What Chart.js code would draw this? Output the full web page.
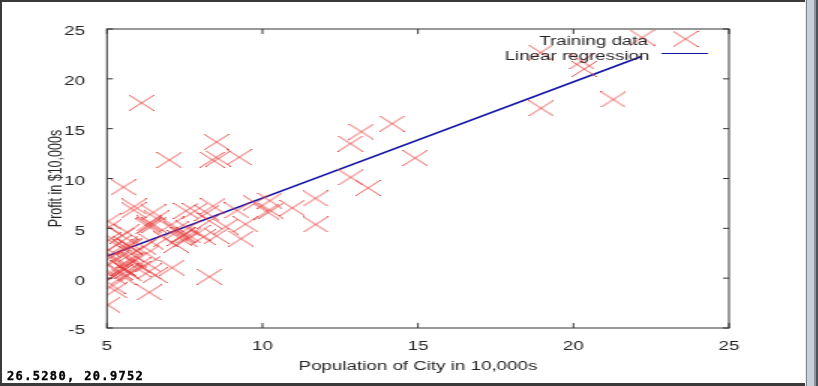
<!DOCTYPE html>
<html>
<head>
<meta charset="utf-8">
<script src="https://cdn.jsdelivr.net/npm/chart.js@4.4.1/dist/chart.umd.min.js"></script>
<style>
  html, body { margin: 0; padding: 0; background: #fff; overflow: hidden; }
  #stage { position: relative; width: 818px; height: 386px; background: #fff; }
  #plot { position: absolute; left: 0; top: 0; transform: scaleX(1.5); transform-origin: 0 0; }
  .edge { position: absolute; background: #3a3a3a; }
  #status {
    position: absolute; left: 7px; top: 369px;
    font: bold 12px "DejaVu Sans Mono", monospace; letter-spacing: 1.35px; color: #000;
    -webkit-text-stroke: 0.35px #000;
  }
  #sidebar {
    position: absolute; left: 805px; top: 0; width: 13px; height: 386px;
    background: linear-gradient(to right, #e8ecef 0 1px, #7d848c 1px 2px, #c8d0d9 2px 9px, #8d959f 9px 11px, #4d535a 11px);
  }
</style>
</head>
<body>
<div id="stage">
  <canvas id="plot" width="545" height="386"></canvas>
  <div class="edge" style="left:0;top:0;width:818px;height:2px"></div>
  <div class="edge" style="left:0;top:0;width:2px;height:386px"></div>
  <div class="edge" style="left:0;top:383px;width:818px;height:3px"></div>
  <div id="sidebar"></div>
  <div id="status">26.5280, 20.9752</div>
</div>
<script>
// training set: city population (10,000s) vs profit ($10,000s)
const population = [
  6.1101, 5.5277, 8.5186, 7.0032, 5.8598, 8.3829, 7.4764, 8.5781, 6.4862, 5.0546,
  5.7107, 14.164, 5.734, 8.4084, 5.6407, 5.3794, 6.3654, 5.1301, 6.4296, 7.0708,
  6.1891, 20.27, 5.4901, 6.3261, 5.5649, 18.945, 12.828, 10.957, 13.176, 22.203,
  5.2524, 6.5894, 9.2482, 5.8918, 8.2111, 7.9334, 8.0959, 5.6063, 12.836, 6.3534,
  5.4069, 6.8825, 11.708, 5.7737, 7.8247, 7.0931, 5.0702, 5.8014, 11.7, 5.5416,
  7.5402, 5.3077, 7.4239, 7.6031, 6.3328, 6.3589, 6.2742, 5.6397, 9.3102, 9.4536,
  8.8254, 5.1793, 21.279, 14.908, 18.959, 7.2182, 8.2951, 10.236, 5.4994, 20.341,
  10.136, 7.3345, 6.0062, 7.2259, 5.0269, 6.5479, 7.5386, 5.0365, 10.274, 5.1077,
  5.7292, 5.1884, 6.3557, 9.7687, 6.5159, 8.5172, 9.1802, 6.002, 5.5204, 5.0594,
  5.7077, 7.6366, 5.8707, 5.3054, 8.2934, 13.394, 5.4369
];
const profit = [
  17.592, 9.1302, 13.662, 11.854, 6.8233, 11.886, 4.3483, 12, 6.5987, 3.8166,
  3.2522, 15.505, 3.1551, 7.2258, 0.71618, 3.5129, 5.3048, 0.56077, 3.6518, 5.3893,
  3.1386, 21.767, 4.263, 5.1875, 3.0825, 22.638, 13.501, 7.0467, 14.692, 24.147,
  -1.22, 5.9966, 12.134, 1.8495, 6.5426, 4.5623, 4.1164, 3.3928, 10.117, 5.4974,
  0.55657, 3.9115, 5.3854, 2.4406, 6.7318, 1.0463, 5.1337, 1.844, 8.0043, 1.0179,
  6.7504, 1.8396, 4.2885, 4.9981, 1.4233, -1.4211, 2.4756, 4.6042, 3.9624, 5.4141,
  5.1694, -0.74279, 17.929, 12.054, 17.054, 4.8852, 5.7442, 7.7754, 1.0173, 20.992,
  6.6799, 4.0259, 1.2784, 3.3411, -2.6807, 0.29678, 3.8845, 5.7014, 6.7526, 2.0576,
  0.47953, 0.20421, 0.67861, 7.5435, 5.3436, 4.2415, 6.7981, 0.92695, 0.152, 2.8214,
  1.8451, 4.2959, 7.2029, 1.9869, 0.14454, 9.0551, 0.61705
];
// fitted line, drawn between the smallest and largest population
const fitX = [5.0269, 22.203];
const fitY = [2.2332, 22.267];

const xTicks = [5, 10, 15, 20, 25];
const yTicks = [-5, 0, 5, 10, 15, 20, 25];

const seriesNames = ['Training data', 'Linear regression'];

const textColor = '#262626';
const frameColor = '#333';
const crossColor = 'rgb(228, 58, 58)';
const lineColor = '#1414a6';
const fontFamily = '"Liberation Sans", Arial, sans-serif';

// the screenshot is stretched sideways, so the cross is drawn narrower here
function makeCross(w, h) {
    const c = document.createElement('canvas');
    c.width = w;
    c.height = h;
    const g = c.getContext('2d');
    g.strokeStyle = crossColor;
    g.lineWidth = 0.9;
    g.beginPath();
    g.moveTo(0, 0);
    g.lineTo(w, h);
    g.moveTo(w, 0);
    g.lineTo(0, h);
    g.stroke();
    return c;
}
const cross = makeCross(17, 16);

// gnuplot style box with inward mirrored ticks
const frameTicks = {
    id: 'frameTicks',
    afterDatasetsDraw(chart) {
        const { ctx, chartArea: a, scales: { x, y } } = chart;
        ctx.save();
        ctx.strokeStyle = frameColor;
        ctx.lineWidth = 1;
        ctx.strokeRect(a.left, a.top, a.right - a.left, a.bottom - a.top);
        ctx.beginPath();
        xTicks.forEach((v) => {
            const px = x.getPixelForValue(v);
            ctx.moveTo(px, a.bottom);
            ctx.lineTo(px, a.bottom - 5);
            ctx.moveTo(px, a.top);
            ctx.lineTo(px, a.top + 5);
        });
        yTicks.forEach((v) => {
            const py = y.getPixelForValue(v);
            ctx.moveTo(a.left, py);
            ctx.lineTo(a.left + 4, py);
            ctx.moveTo(a.right, py);
            ctx.lineTo(a.right - 4, py);
        });
        ctx.stroke();
        ctx.restore();
    }
};

// legend: label on the left, sample on the right
const keyBox = {
    id: 'keyBox',
    afterDraw(chart) {
        const { ctx, chartArea: a } = chart;
        const ds = chart.data.datasets;
        ctx.save();
        ctx.font = '12.5px ' + fontFamily;
        ctx.fillStyle = textColor;
        ctx.textAlign = 'right';
        ctx.textBaseline = 'middle';
        ctx.fillText(ds[0].label, a.right - 54, a.top + 13);
        ctx.fillText(ds[1].label, a.right - 53, a.top + 28);
        ctx.drawImage(cross, a.right - 29 - cross.width / 2, a.top + 10 - cross.height / 2);
        ctx.strokeStyle = lineColor;
        ctx.lineWidth = 1;
        ctx.beginPath();
        ctx.moveTo(a.right - 45, a.top + 24.5);
        ctx.lineTo(a.right - 14, a.top + 24.5);
        ctx.stroke();
        ctx.restore();
    }
};

const points = population.map((p, i) => ({ x: p, y: profit[i] }));
const fitLine = fitX.map((p, i) => ({ x: p, y: fitY[i] }));

new Chart(document.getElementById('plot'), {
    type: 'scatter',
    data: {
        datasets: [
            {
                label: seriesNames[0],
                data: points,
                pointStyle: cross,
                pointRadius: 8,
                showLine: false,
            },
            {
                label: seriesNames[1],
                data: fitLine,
                showLine: true,
                borderColor: lineColor,
                borderWidth: 1.6,
                pointRadius: 0,
            },
        ],
    },
    options: {
        responsive: false,
        animation: false,
        events: [],
        layout: { padding: { top: 29, right: 59, bottom: 0, left: 0 } },
        plugins: { legend: { display: false }, tooltip: { enabled: false } },
        scales: {
            x: {
                type: 'linear',
                min: 5,
                max: 25,
                afterFit: (s) => { s.height = 58; },
                afterBuildTicks: (s) => { s.ticks = xTicks.map((v) => ({ value: v })); },
                grid: { display: false },
                border: { display: false },
                ticks: {
                    padding: 3.5,
                    maxRotation: 0,
                    autoSkip: false,
                    color: textColor,
                    font: { family: fontFamily, size: 12.5 },
                },
                title: {
                    display: true,
                    text: 'Population of City in 10,000s',
                    color: textColor,
                    font: { family: fontFamily, size: 12.5 },
                    padding: { top: 0, bottom: 11.5 },
                },
            },
            y: {
                type: 'linear',
                min: -5,
                max: 25,
                afterFit: (s) => { s.width = 71.3; },
                afterBuildTicks: (s) => { s.ticks = yTicks.map((v) => ({ value: v })); },
                grid: { display: false },
                border: { display: false },
                ticks: {
                    padding: 6.6,
                    labelOffset: 3,
                    color: textColor,
                    font: { family: fontFamily, size: 12.5 },
                },
                title: {
                    display: true,
                    text: 'Profit in $10,000s',
                    color: textColor,
                    font: { family: fontFamily, size: 12.5 },
                    padding: { top: 30.5, bottom: 0 },
                },
            },
        },
    },
    plugins: [frameTicks, keyBox],
});
</script>
</body>
</html>
